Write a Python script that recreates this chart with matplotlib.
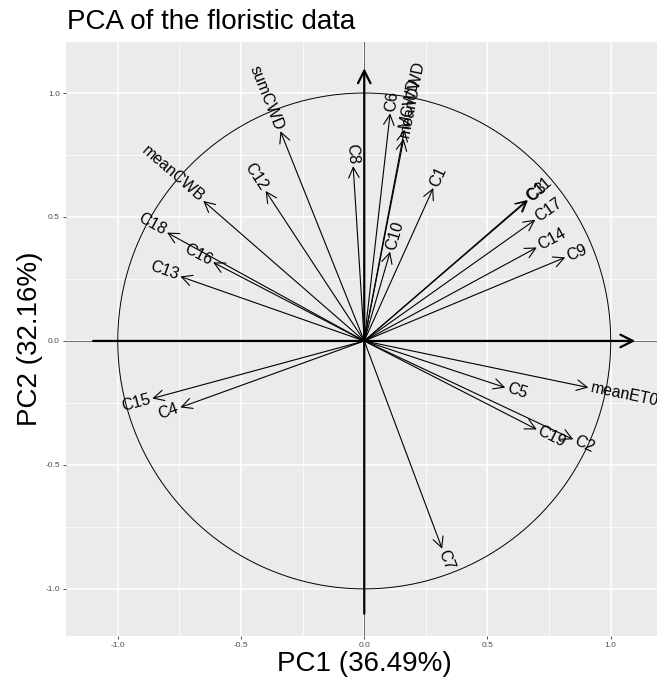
import numpy as np
import matplotlib.pyplot as plt

plt.rcParams['font.family'] = ['Liberation Sans', 'DejaVu Sans']

# loadings
variables = ['C1', 'C2', 'C3', 'C4', 'C5', 'C6', 'C7', 'C8', 'C9', 'C10',
             'C11', 'C12', 'C13', 'C14', 'C15', 'C16', 'C17', 'C18', 'C19',
             'sumCWD', 'meanCWB', 'meanET0', 'MCWD', 'meanCWD']
pc1 = [0.28, 0.848, 0.664, -0.746, 0.572, 0.105, 0.316, -0.045, 0.815, 0.105,
       0.660, -0.40, -0.746, 0.70, -0.86, -0.613, 0.694, -0.80, 0.70,
       -0.34, -0.653, 0.909, 0.163, 0.160]
pc2 = [0.617, -0.397, 0.567, -0.268, -0.188, 0.918, -0.838, 0.705, 0.337, 0.36,
       0.568, 0.605, 0.26, 0.377, -0.232, 0.317, 0.489, 0.437, -0.357,
       0.846, 0.565, -0.188, 0.852, 0.815]

pc1_var = 36.49
pc2_var = 32.16
ticks = [-1.0, -0.5, 0.0, 0.5, 1.0]
minor_ticks = [-0.75, -0.25, 0.25, 0.75]

W, H = 657, 682
fig = plt.figure(figsize=(W / 100, H / 100), dpi=100)
ax = fig.add_axes([66 / W, 46 / H, 596.5 / W, 594.3 / H])
ax.set_facecolor('#EBEBEB')
for s in ax.spines.values():
    s.set_visible(False)

ax.set_xlim(-1.21, 1.21)
ax.set_ylim(-1.19, 1.207)

# grid
ax.set_xticks(ticks)
ax.set_yticks(ticks)
ax.set_xticks(minor_ticks, minor=True)
ax.set_yticks(minor_ticks, minor=True)
ax.grid(which='major', color='white', lw=1.1)
ax.grid(which='minor', color='white', lw=0.55)
ax.set_axisbelow(True)
ax.tick_params(which='minor', length=0)
ax.tick_params(which='major', length=2.5, width=0.6, color='#333333',
               labelsize=6, labelcolor='#4D4D4D', pad=2)
ax.set_xticklabels(['-1.0', '-0.5', '0.0', '0.5', '1.0'])
ax.set_yticklabels(['-1.0', '-0.5', '0.0', '0.5', '1.0'])

# reference lines
ax.axhline(0, color='#555555', lw=0.6, zorder=1)
ax.axvline(0, color='#555555', lw=0.6, zorder=1)

# unit circle
t = np.linspace(0, 2 * np.pi, 400)
ax.plot(np.cos(t), np.sin(t), color='black', lw=0.7, zorder=2)

# thick axis arrows
axis_arrow = dict(arrowstyle='->,head_length=0.9,head_width=0.45', lw=1.6,
                  color='black', shrinkA=0, shrinkB=0)
ax.annotate('', xy=(1.1, 0), xytext=(-1.1, 0), arrowprops=axis_arrow, zorder=3)
ax.annotate('', xy=(0, 1.1), xytext=(0, -1.1), arrowprops=axis_arrow, zorder=3)

# variable arrows and labels
var_arrow = dict(arrowstyle='->,head_length=0.75,head_width=0.38', lw=0.8,
                 color='black', shrinkA=0, shrinkB=0)
for name, x, y in zip(variables, pc1, pc2):
    ax.annotate('', xy=(x, y), xytext=(0, 0), arrowprops=var_arrow, zorder=4)
    angle = np.degrees(np.arctan(y / x))
    r = np.hypot(x, y)
    ax.annotate(name, xy=(x, y), xytext=(1.5 * x / r, 1.5 * y / r),
                textcoords='offset points', rotation=angle,
                rotation_mode='anchor', ha='left' if x > 0 else 'right',
                va='center', fontsize=11.5, color='black', zorder=5)

ax.set_xlabel(f'PC1 ({pc1_var}%)', fontsize=20, labelpad=1)
ax.set_ylabel(f'PC2 ({pc2_var}%)', fontsize=20, labelpad=1.5)
fig.text(67 / W, 1 - 29 / H, 'PCA of the floristic data', fontsize=20,
         ha='left', va='baseline')

fig.savefig('out.png', dpi=100)
